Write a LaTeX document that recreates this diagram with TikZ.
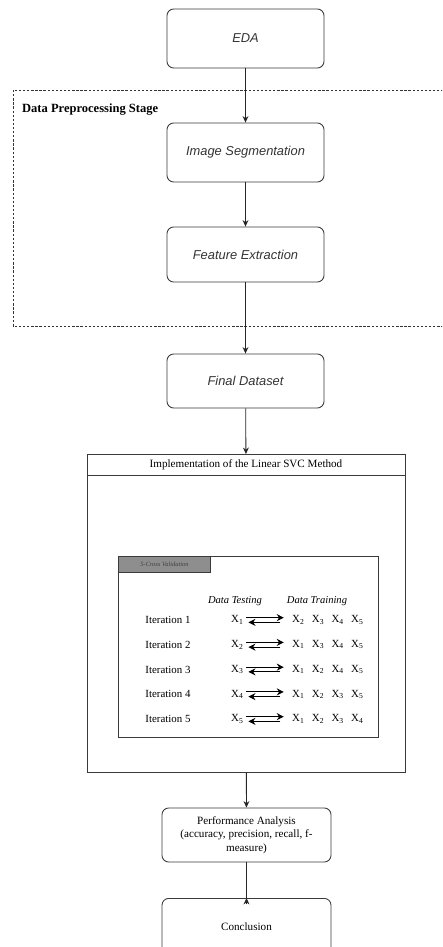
\documentclass[tikz,border=0pt]{standalone}
\usepackage{fontspec}
\setmainfont{Liberation Serif}
\newfontfamily\arialfont{Liberation Sans}
\usetikzlibrary{arrows.meta}
\definecolor{boxline}{HTML}{3A3A3A}
\definecolor{tabgray}{HTML}{8E8E8E}
\newcommand{\xs}[1]{X\textsubscript{#1}}
\newcommand{\xgap}{\hspace{6.3pt}}
\begin{document}
\begin{tikzpicture}[x=0.03cm,y=-0.03cm,
    stage/.style={draw=boxline,line width=0.75pt,rounded corners=2mm,minimum width=4.71cm,
        text=black!80,font=\arialfont\itshape\fontsize{11}{13}\selectfont},
    result/.style={draw=boxline,line width=0.75pt,rounded corners=2mm,minimum width=5.07cm,
        align=center,font=\fontsize{9.5}{11.5}\selectfont},
    flow/.style={draw=black!85,line width=0.7pt,-{Stealth[length=5.5pt,width=5pt]}},
    swaparrow/.style={line width=0.9pt,-{Stealth[length=6pt,width=6pt]}},
    iter/.style={font=\fontsize{9.3}{11}\selectfont},
    xval/.style={inner sep=0pt,anchor=west,font=\fontsize{9.3}{11}\selectfont},
    hdr/.style={font=\itshape\fontsize{9}{11}\selectfont}]
    \clip (0,0) rectangle (442,947);
    \node[stage,minimum height=1.77cm] (eda) at (245.5,38.5) {EDA};
    \draw[draw=black!80,line width=0.7pt,dash pattern=on 2pt off 1.5pt] (13,90) rectangle (470,326);
    \node[anchor=west,font=\bfseries\fontsize{10.7}{12}\selectfont] (prep) at (18,110) {Data Preprocessing Stage};
    \node[stage,minimum height=1.77cm] (seg) at (245.5,152.5) {Image Segmentation};
    \node[stage,minimum height=1.65cm] (feat) at (245.5,254.5) {Feature Extraction};
    \node[stage,minimum height=1.62cm] (final) at (245.5,381) {Final Dataset};
    \node[draw=boxline,line width=0.75pt,anchor=north,minimum width=9.54cm,minimum height=9.54cm] (impl) at (246,454) {};
    \node[draw=boxline,line width=0.75pt,anchor=north,minimum width=9.54cm,minimum height=0.63cm,
        font=\fontsize{9.5}{11}\selectfont] (impltitle) at (246,454) {Implementation of the Linear SVC Method};
    \node[draw=boxline,line width=0.8pt,anchor=north west,minimum width=7.8cm,minimum height=5.43cm] (cv) at (118,556) {};
    \node[draw=boxline,line width=0.7pt,fill=tabgray,anchor=north west,minimum width=2.76cm,minimum height=0.48cm,
        inner sep=0pt,text=black!75,font=\itshape\fontsize{5.5}{6}\selectfont] (cvtab) at (118,556) {5-Cross Validation};
    \node[hdr] (hdrtest) at (235,601) {Data Testing};
    \node[hdr] (hdrtrain) at (317,601) {Data Training};
    \foreach \k/\t/\a/\b/\c/\d in {1/1/2/3/4/5,2/2/1/3/4/5,3/3/1/2/4/5,4/4/1/2/3/5,5/5/1/2/3/4} {
        \pgfmathsetmacro\yy{620+24.75*(\k-1)}
        \node[iter] (iter\k) at (168,\yy) {Iteration \k};
        \node[xval] (test\k) at (231,\yy) {\xs{\t}};
        \node[xval] (train\k) at (292,\yy) {\xs{\a}\xgap\xs{\b}\xgap\xs{\c}\xgap\xs{\d}};
        \draw[swaparrow] ([shift={(2pt,2pt)}]test\k.east) -- ([shift={(-7pt,2pt)}]train\k.west);
        \draw[swaparrow] ([shift={(-10pt,-2pt)}]train\k.west) -- ([shift={(4pt,-2pt)}]test\k.east);
    }
    \node[result,minimum height=1.62cm] (perf) at (246.5,835) {Performance Analysis\\(accuracy, precision, recall, f-\\measure)};
    \node[result,minimum height=1.68cm,anchor=north] (concl) at (246.5,898) {Conclusion};
    \draw[flow] (eda) -- (seg);
    \draw[flow] (seg) -- (feat);
    \draw[flow] (feat) -- (final);
    \draw[flow] (final) -- (impltitle);
    \draw[flow] (impl) -- (perf);
    \draw[draw=black!85,line width=0.7pt] (perf) -- (concl);
    \draw[flow] ([yshift=-5.5pt]concl.north) -- (concl.north);
\end{tikzpicture}
\end{document}
